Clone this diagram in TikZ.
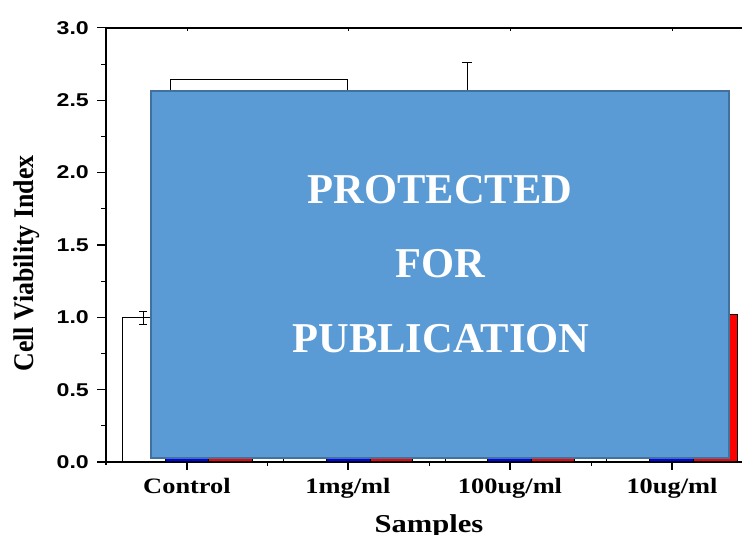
\documentclass[tikz,border=0pt]{standalone}
\usepackage{fontspec}
\usepackage{graphicx}
\setmainfont{Liberation Serif}
\setsansfont{Liberation Sans}
\definecolor{boxblue}{HTML}{5B9BD5}
\definecolor{boxedge}{HTML}{41719C}
\definecolor{barblue}{HTML}{0000FF}
\definecolor{barred}{HTML}{FF0000}
\begin{document}
\begin{tikzpicture}[x=1pt,y=-1pt,
  axisline/.style={line width=1.4pt,black},
  tickmaj/.style={line width=1.2pt,black},
  tickmin/.style={line width=1pt,black},
  barw/.style={draw=black,line width=0.8pt,fill=white},
  barb/.style={draw=black,line width=0.8pt,fill=barblue},
  barr/.style={draw=black,line width=0.8pt,fill=barred},
  errbar/.style={line width=0.9pt,black},
  ylab/.style={anchor=east,inner sep=0pt,font=\sffamily\bfseries\fontsize{18.5}{20}\selectfont},
  xlab/.style={anchor=base,inner sep=0pt,font=\rmfamily\bfseries\fontsize{22}{24}\selectfont},
  protect/.style={anchor=base,inner sep=0pt,text=white,font=\rmfamily\bfseries\fontsize{42.5}{46}\selectfont}]
\useasboundingbox (0,0) rectangle (742,535);
% hidden / partly visible bars
\draw[barw] (170,79) rectangle (347,250);
\draw[errbar] (467,62) -- (467,120);
\draw[errbar] (462,62) -- (472,62);
\draw[barw] (122,317) rectangle (165,462);
\draw[errbar] (143,311) -- (143,324);
\draw[errbar] (139,311) -- (147,311);
\draw[errbar] (139,324) -- (147,324);
\draw[barb] (165,300) rectangle (208,462);
\draw[barr] (208,300) rectangle (252,462);
\draw[barw] (283,300) rectangle (326,462);
\draw[barb] (326,300) rectangle (370,462);
\draw[barr] (370,300) rectangle (412,462);
\draw[barw] (445,300) rectangle (487,462);
\draw[barb] (487,300) rectangle (531,462);
\draw[barr] (531,300) rectangle (574,462);
\draw[barw] (606,300) rectangle (649,462);
\draw[barb] (649,300) rectangle (693,462);
\draw[barr] (693,314) rectangle (737,462);
% axes
\draw[axisline] (106,28) -- (742,28);
\draw[axisline] (106,28) -- (106,465);
\draw[axisline] (105,462) -- (742,462);
% y ticks
\foreach \v/\t in {0/0.0,0.5/0.5,1/1.0,1.5/1.5,2/2.0,2.5/2.5,3/3.0}{
  \draw[tickmaj] (97,{462-144.7*\v}) -- (106,{462-144.7*\v});
  \node[ylab] (yt\v) at (89,{462-144.7*\v}) {\scalebox{1.25}[1]{\t}};
}
\foreach \v in {0.25,0.75,1.25,1.75,2.25,2.75}{
  \draw[tickmin] (101,{462-144.7*\v}) -- (106,{462-144.7*\v});
}
% x ticks
\foreach \x in {187,348,510,672}{
  \draw[tickmaj] (\x,462) -- (\x,470);
  \draw[tickmin] (\x,28) -- (\x,31);
}
\foreach \x in {267,429,591}{
  \draw[tickmin] (\x,462) -- (\x,466);
}
% category labels
\node[xlab] (c1) at (187,493) {\scalebox{1.2}[1]{Control}};
\node[xlab] (c2) at (348,493) {\scalebox{1.2}[1]{1mg/ml}};
\node[xlab] (c3) at (510,493) {\scalebox{1.2}[1]{100ug/ml}};
\node[xlab] (c4) at (672,493) {\scalebox{1.2}[1]{10ug/ml}};
% axis titles
\node[anchor=base,inner sep=0pt,font=\rmfamily\bfseries\fontsize{25.7}{28}\selectfont] (xt) at (429,532) {\scalebox{1.19}[1]{Samples}};
\node[anchor=base,inner sep=0pt,rotate=90,font=\rmfamily\bfseries\fontsize{25.9}{28}\selectfont] (yt) at (33,263.5) {\scalebox{1}[1.1]{Cell Viability Index}};
% protection box
\node[draw=boxedge,fill=boxblue,line width=2.2pt,minimum width=578pt,minimum height=367pt,inner sep=0pt] (prot) at (440,274.5) {};
\node[protect] (p1) at (440,203) {PROTECTED};
\node[protect] (p2) at (440,277) {FOR};
\node[protect] (p3) at (441,352) {PUBLICATION};
\end{tikzpicture}
\end{document}
